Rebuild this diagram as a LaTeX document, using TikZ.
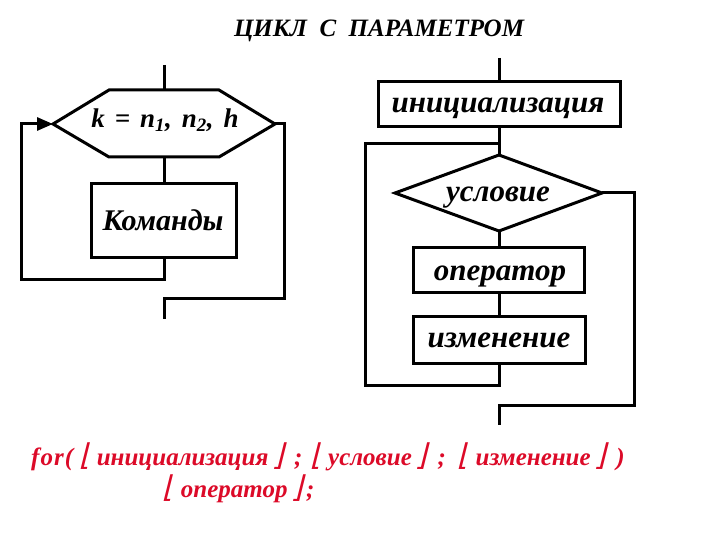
\documentclass[tikz,border=0pt]{standalone}
\usepackage{fontspec}
\setmainfont{Liberation Serif}
\newfontfamily\brkfont[FakeSlant=0.25]{DejaVu Sans}
\newcommand{\lb}{{\fontsize{30}{30}\selectfont\normalfont\brkfont ⌊}}
\newcommand{\rb}{{\fontsize{30}{30}\selectfont\normalfont\brkfont ⌋}}
\usetikzlibrary{arrows.meta}
\definecolor{myred}{RGB}{220,10,40}
\begin{document}
\begin{tikzpicture}[x=1pt,y=-1pt,
  ln/.style={line width=3pt,line join=miter},
  box/.style={draw,line width=3pt,inner sep=0pt},
  lbl/.style={anchor=base,inner sep=0pt,font=\fontsize{31}{32}\selectfont\bfseries\itshape},
  code/.style={anchor=base west,inner sep=0pt,text=myred,font=\fontsize{25}{26}\selectfont\bfseries\itshape}]
\useasboundingbox (0,0) rectangle (720,540);
% title
\node[anchor=base,inner sep=0pt,font=\fontsize{25}{26}\selectfont\bfseries\itshape] (title) at (379,37) {ЦИКЛ\ \ С\ \ ПАРАМЕТРОМ};
% ---------- left diagram
\coordinate (ltop) at (164,65);
\coordinate (hT) at (164,90);
\coordinate (hB) at (164,157);
\coordinate (hL) at (53,124);
\coordinate (hR) at (275,124);
\draw[ln] (53,124) -- (109,90) -- (219,90) -- (275,124) -- (219,157) -- (109,157) -- cycle;
\node[lbl,font=\fontsize{27}{28}\selectfont\bfseries\itshape] (hex) at (165,128) {k\hspace{10pt}=\hspace{10pt}n\textsubscript{1},\hspace{10pt}n\textsubscript{2},\hspace{10pt}h};
\node[box,minimum width=145pt,minimum height=73pt] (cmd) at (164,220.5) {};
\node[lbl,font=\fontsize{30}{32}\selectfont\bfseries\itshape] (cmdt) at (163,230) {Команды};
\coordinate (lj) at (164,279);
\coordinate (lx) at (164,298);
\coordinate (lend) at (164,319);
\draw[ln] (ltop) -- (hT);
\draw[ln] (hB) -- (cmd.north);
\draw[ln] (cmd.south) -- (lj) -- (21,279) -- (21,124) -- (35,124);
\draw[line width=3pt,-{Triangle[length=16pt,width=13pt]}] (21,124) -- (hL);
\draw[ln] (hR) -- (284,124) -- (284,298) -- (lx) -- (lend);
% ---------- right diagram
\coordinate (rtop) at (499,58);
\node[box,minimum width=242pt,minimum height=45pt] (init) at (499,104.5) {};
\node[lbl] (initt) at (498,113) {инициализация};
\coordinate (dT) at (499,155);
\coordinate (dB) at (499,231);
\coordinate (dL) at (395,193);
\coordinate (dR) at (602,193);
\draw[ln] (dT) -- (dR) -- (dB) -- (dL) -- cycle;
\node[lbl] (cond) at (498,202) {условие};
\node[box,minimum width=171pt,minimum height=45pt] (op) at (499,269.5) {};
\node[lbl] (opt) at (500,280) {оператор};
\node[box,minimum width=172pt,minimum height=47pt] (chg) at (499,339.5) {};
\node[lbl] (chgt) at (499,347) {изменение};
\coordinate (rj) at (499,144);
\coordinate (rb) at (499,385);
\coordinate (rx) at (499,405);
\coordinate (rend) at (499,425);
\draw[ln] (rtop) -- (init.north);
\draw[ln] (init.south) -- (dT);
\draw[ln] (dB) -- (op.north);
\draw[ln] (op.south) -- (chg.north);
\draw[ln] (chg.south) -- (rb) -- (365,385) -- (365,144) -- (rj);
\draw[ln] (dR) -- (634,193) -- (634,405) -- (rx) -- (rend);
% ---------- code text
\node[code] (code1) at (31,465) {f\hspace{1pt}o\hspace{1pt}r\hspace{1pt}(\hspace{6pt}\lb\hspace{6pt}инициализация\hspace{4pt}\rb\hspace{10pt};\hspace{8pt}\lb\hspace{6pt}условие\hspace{4pt}\rb\hspace{10pt};\hspace{12pt}\lb\hspace{6pt}изменение\hspace{4pt}\rb\hspace{10pt})};
\node[code] (code2) at (162,497) {\lb\hspace{7pt}оператор\hspace{4pt}\rb\hspace{3pt};};
\end{tikzpicture}
\end{document}
